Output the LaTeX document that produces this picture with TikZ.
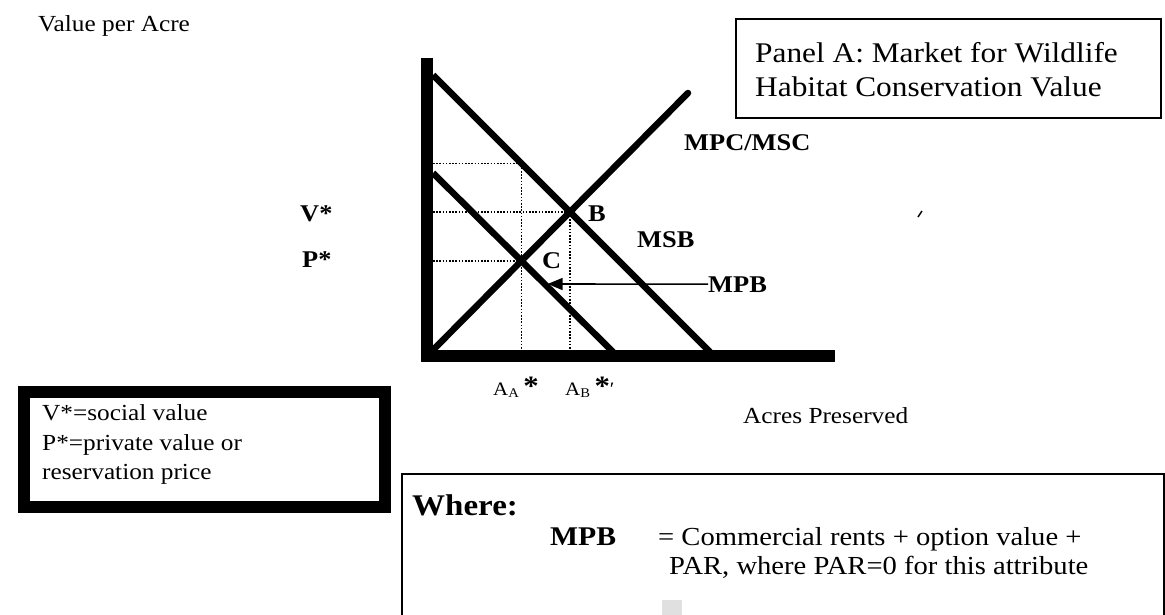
\documentclass[tikz,border=0pt]{standalone}
\usepackage{fontspec}
\setmainfont{Liberation Serif}[FakeStretch=1.1]
\usetikzlibrary{arrows.meta}

\begin{document}
\begin{tikzpicture}[x=1pt,y=-1pt,
    curve/.style={line width=6.5pt},
    axis/.style={line width=12pt},
    guide/.style={line width=1.6pt, dash pattern=on 1.6pt off 1.6pt},
    lbl/.style={font=\fontsize{24}{28}\selectfont\bfseries, inner sep=0pt, anchor=base west},
    txt/.style={font=\fontsize{23}{29.5}\selectfont, inner sep=0pt, anchor=base west},
    ]
  \useasboundingbox (0,0) rectangle (1165,615);

  % end points of the three curves
  \coordinate (msb1) at (433,75);  \coordinate (msb2) at (710,352);
  \coordinate (mpb1) at (433,173); \coordinate (mpb2) at (613,352);
  \coordinate (mpc1) at (433,350); \coordinate (mpc2) at (688,93);
  \coordinate (ytop) at (433,75);  \coordinate (xbase) at (433,350);
  \coordinate (B) at (intersection of msb1--msb2 and mpc1--mpc2);
  \coordinate (C) at (intersection of mpb1--mpb2 and mpc1--mpc2);
  \coordinate (Cup) at (C |- ytop);
  \coordinate (D) at (intersection of msb1--msb2 and C--Cup);

  % dotted guides
  \draw[guide] (D -| ytop) -- (D) -- (D |- xbase);
  \draw[guide] (B -| ytop) -- (B) -- (B |- xbase);
  \draw[guide] (C -| ytop) -- (C);

  \draw[curve] (msb1) -- (msb2);
  \draw[curve] (mpb1) -- (mpb2);
  \draw[curve, line cap=round] (mpc1) -- (mpc2);
  \draw[axis] (427,58) -- (427,356) -- (835,356);

  % labels on the graph
  \node[lbl] (mpcL) at (684,150) {MPC/MSC};
  \node[lbl] (msbL) at (637,247) {MSB};
  \node[lbl] (bL) at (588,222) {B};
  \node[lbl] (cL) at (542,268) {C};
  \node[lbl] (mpbL) at (708,292) {MPB};
  \node[lbl] (vL) at (300,221) {V*};
  \node[lbl] (pL) at (302,267) {P*};
  \node[txt, font=\fontsize{19}{22}\selectfont] (aA) at (493,395)
    {A\textsubscript{A}\kern4pt\textbf{\fontsize{28}{28}\selectfont*}};
  \node[txt, font=\fontsize{19}{22}\selectfont] (aB) at (565,395)
    {A\textsubscript{B}\kern4pt\textbf{\fontsize{28}{28}\selectfont*}′};

  \coordinate (arrS) at (709,284); \coordinate (arrW) at (433,284);
  \coordinate (T) at (intersection of mpb1--mpb2 and arrS--arrW);
  \draw[line width=1.6pt, -{Triangle[length=15pt,width=12pt]}, shorten >=3pt] (mpbL.west) -- (T);

  \node[txt] (yL) at (38,32) {Value per Acre};
  \node[txt] (xL) at (743,423) {Acres Preserved};
  \draw[line width=1.5pt] (918,217) -- (922,211);

  % boxes
  \node[draw, line width=1.8pt, anchor=north west, minimum width=425pt, minimum height=99pt] (panel) at (735,18) {};
  \node[txt, font=\fontsize{28.5}{34}\selectfont] (panelA) at (755,63) {Panel A: Market for Wildlife};
  \node[txt, font=\fontsize{28.5}{34}\selectfont] (panelB) at (755,97) {Habitat Conservation Value};

  \node[draw, line width=12pt, anchor=north west, minimum width=361pt, minimum height=115pt] (key) at (18,386) {};
  \node[txt] (keyA) at (42,420) {V*=social value};
  \node[txt] (keyB) at (42,450) {P*=private value or};
  \node[txt] (keyC) at (42,479) {reservation price};

  \node[draw, line width=1.8pt, anchor=north west, minimum width=762pt, minimum height=170pt] (where) at (401,473) {};
  \node[lbl, font=\fontsize{30}{32}\selectfont\bfseries] (whereL) at (412,515) {Where:};
  \node[lbl, font=\fontsize{27}{30}\selectfont\bfseries] (mpbW) at (550,545) {MPB};
  \node[txt, font=\fontsize{26}{30}\selectfont] (defA) at (658,545) {= Commercial rents + option value +};
  \node[txt, font=\fontsize{26}{30}\selectfont] (defB) at (669,574) {PAR, where PAR=0 for this attribute};
  \fill[black!12] (662,600) rectangle (682,615);
\end{tikzpicture}
\end{document}
